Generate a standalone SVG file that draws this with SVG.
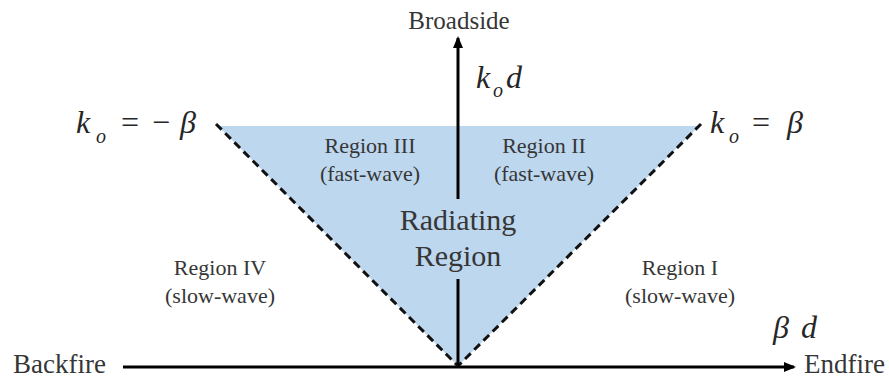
<svg xmlns="http://www.w3.org/2000/svg" width="889" height="383" viewBox="0 0 889 383">
<style>
.t{font-family:"Liberation Serif","Times New Roman",serif;fill:#363636;}
.lbl{font-size:22px;text-anchor:middle;}
.big{font-size:30px;text-anchor:middle;}
.ax{font-size:27px;}
.math{font-family:"Liberation Serif","Times New Roman",serif;font-style:italic;fill:#262626;font-size:32px;}
.sub{font-size:20px;}
.up{font-style:normal;}
.dash{stroke:#111;stroke-width:3;stroke-dasharray:8 5;fill:none;}
.axis{stroke:#000;stroke-width:3;fill:none;}
</style>
<defs>
<marker id="arr" markerWidth="12" markerHeight="12" refX="10" refY="6" orient="auto" markerUnits="userSpaceOnUse">
<path d="M0,1 L12,6 L0,11 Z" fill="#000"/>
</marker>
</defs>
<g id="radiating-region">
<polygon points="218,126 699,126 458,366" fill="#bdd7ee"/>
</g>
<g id="connectors">
<line class="dash" x1="216" y1="124" x2="458" y2="366"/>
<line class="dash" x1="701" y1="124" x2="458" y2="366"/>
<line class="axis" x1="123" y1="367" x2="794" y2="367" marker-end="url(#arr)"/>
<line class="axis" x1="458" y1="199" x2="458" y2="38" marker-end="url(#arr)"/>
<line class="axis" x1="458" y1="279" x2="458" y2="367"/>
</g>
<g id="broadside"><text class="t" x="459" y="29" font-size="25" text-anchor="middle">Broadside</text></g>
<g id="backfire"><text class="t ax" x="13" y="373">Backfire</text></g>
<g id="endfire"><text class="t ax" x="804" y="373">Endfire</text></g>
<g id="kod"><text class="math" font-size="30"><tspan x="476" y="88">k</tspan><tspan class="sub" x="493" y="97" font-size="18">o</tspan><tspan x="506" y="88">d</tspan></text></g>
<g id="beta-d"><text class="math"><tspan x="773" y="338">β</tspan><tspan x="801" y="338">d</tspan></text></g>
<g id="ko-neg-beta"><text class="math"><tspan x="76" y="133">k</tspan><tspan class="sub" x="96" y="143">o</tspan><tspan class="up" x="121" y="133">=</tspan><tspan class="up" x="152" y="133">−</tspan><tspan x="180" y="133">β</tspan></text></g>
<g id="ko-beta"><text class="math"><tspan x="710" y="133">k</tspan><tspan class="sub" x="729" y="143">o</tspan><tspan class="up" x="752" y="133">=</tspan><tspan x="787" y="133">β</tspan></text></g>
<g id="region-iii"><text class="t lbl" x="370" y="153">Region III</text><text class="t lbl" x="370" y="181">(fast-wave)</text></g>
<g id="region-ii"><text class="t lbl" x="544" y="153">Region II</text><text class="t lbl" x="544" y="181">(fast-wave)</text></g>
<g id="radiating"><text class="t big" x="458" y="230">Radiating</text><text class="t big" x="458" y="266">Region</text></g>
<g id="region-iv"><text class="t lbl" x="220" y="275">Region IV</text><text class="t lbl" x="220" y="303">(slow-wave)</text></g>
<g id="region-i"><text class="t lbl" x="680" y="275">Region I</text><text class="t lbl" x="680" y="303">(slow-wave)</text></g>
</svg>
